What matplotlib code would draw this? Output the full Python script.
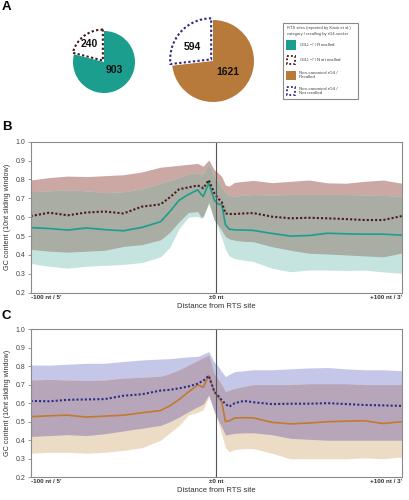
import numpy as np
import matplotlib
matplotlib.use("Agg")
import matplotlib.pyplot as plt
from matplotlib.patches import Rectangle

plt.rcParams['font.family'] = ['Liberation Sans', 'DejaVu Sans']
plt.rcParams['mathtext.default'] = 'regular'

# ---------------- data ----------------
pie_g3l_values = [240, 903]          # not recalled, recalled
pie_noncanon_values = [594, 1621]    # not recalled, recalled

legend_title = ["RTS sites (reported by Kwok et al.)", "category / recalling by rG4-seeker"]
legend_labels = [r"G$_3$L$_{1-7}$ / Recalled", r"G$_3$L$_{1-7}$ / Not recalled",
                 "Non-canonical rG4 /\nRecalled", "Non-canonical rG4 /\nNot recalled"]

pos = [-100, -90, -80, -70, -60, -50, -40, -30, -25, -20, -15, -10, -8, -7, -4, -1,
       1, 3, 5, 7, 10, 15, 20, 30, 40, 50, 60, 70, 80, 90, 100]
xtick_pos = [-100, 0, 100]
xtick_labels = ["-100 nt / 5'", "\u00b10 nt", "+100 nt / 3'"]
ytick_vals = [0.2, 0.3, 0.4, 0.5, 0.6, 0.7, 0.8, 0.9, 1.0]

# Panel B : G3L1-7
b_rec_mean = [0.545, 0.54, 0.532, 0.543, 0.534, 0.528, 0.546, 0.576, 0.63, 0.69, 0.72, 0.745, 0.72, 0.71, 0.78, 0.69,
              0.67, 0.665, 0.56, 0.537, 0.533, 0.532, 0.53, 0.514, 0.50, 0.503, 0.515, 0.512, 0.51, 0.51, 0.505]
b_rec_hi = [0.735, 0.74, 0.744, 0.74, 0.73, 0.735, 0.75, 0.78, 0.795, 0.81, 0.83, 0.835, 0.825, 0.83, 0.885, 0.815,
            0.79, 0.76, 0.73, 0.715, 0.71, 0.718, 0.72, 0.718, 0.72, 0.72, 0.72, 0.72, 0.718, 0.715, 0.712]
b_rec_lo = [0.355, 0.34, 0.33, 0.34, 0.345, 0.35, 0.36, 0.39, 0.44, 0.54, 0.60, 0.605, 0.595, 0.60, 0.67, 0.585,
            0.54, 0.49, 0.43, 0.395, 0.38, 0.372, 0.365, 0.33, 0.311, 0.32, 0.32, 0.318, 0.32, 0.31, 0.303]
b_nr_mean = [0.606, 0.624, 0.61, 0.625, 0.63, 0.62, 0.656, 0.668, 0.705, 0.748, 0.758, 0.768, 0.76, 0.753, 0.797, 0.727,
             0.70, 0.68, 0.62, 0.617, 0.617, 0.62, 0.622, 0.603, 0.594, 0.597, 0.594, 0.59, 0.585, 0.585, 0.606]
b_nr_hi = [0.797, 0.81, 0.818, 0.815, 0.82, 0.825, 0.84, 0.865, 0.87, 0.875, 0.88, 0.885, 0.875, 0.87, 0.903, 0.85,
           0.835, 0.815, 0.77, 0.765, 0.785, 0.79, 0.795, 0.783, 0.79, 0.797, 0.782, 0.78, 0.79, 0.797, 0.78]
b_nr_lo = [0.43, 0.42, 0.415, 0.42, 0.425, 0.445, 0.455, 0.48, 0.52, 0.576, 0.625, 0.63, 0.60, 0.605, 0.68, 0.585,
           0.56, 0.53, 0.497, 0.485, 0.478, 0.472, 0.47, 0.444, 0.425, 0.409, 0.405, 0.40, 0.395, 0.39, 0.41]

# Panel C : non-canonical rG4
c_rec_mean = [0.527, 0.532, 0.535, 0.525, 0.53, 0.535, 0.548, 0.56, 0.585, 0.62, 0.66, 0.698, 0.69, 0.685, 0.748, 0.662,
              0.635, 0.605, 0.50, 0.505, 0.52, 0.522, 0.52, 0.497, 0.488, 0.493, 0.50, 0.503, 0.505, 0.49, 0.50]
c_rec_hi = [0.725, 0.728, 0.725, 0.722, 0.725, 0.735, 0.74, 0.745, 0.76, 0.78, 0.805, 0.83, 0.84, 0.845, 0.86, 0.76,
            0.73, 0.70, 0.662, 0.67, 0.68, 0.69, 0.70, 0.70, 0.70, 0.705, 0.705, 0.705, 0.70, 0.70, 0.70]
c_rec_lo = [0.33, 0.335, 0.335, 0.33, 0.335, 0.345, 0.36, 0.40, 0.44, 0.48, 0.536, 0.55, 0.56, 0.565, 0.635, 0.56,
            0.50, 0.43, 0.36, 0.338, 0.35, 0.355, 0.355, 0.33, 0.30, 0.30, 0.30, 0.30, 0.305, 0.30, 0.31]
c_nr_mean = [0.612, 0.61, 0.618, 0.62, 0.622, 0.64, 0.648, 0.668, 0.672, 0.68, 0.69, 0.705, 0.716, 0.72, 0.748, 0.662,
             0.64, 0.617, 0.595, 0.581, 0.60, 0.612, 0.605, 0.595, 0.597, 0.597, 0.60, 0.595, 0.59, 0.588, 0.585]
c_nr_hi = [0.806, 0.805, 0.81, 0.815, 0.815, 0.825, 0.833, 0.838, 0.84, 0.845, 0.85, 0.852, 0.86, 0.865, 0.878, 0.82,
           0.80, 0.77, 0.743, 0.755, 0.77, 0.775, 0.78, 0.78, 0.785, 0.79, 0.792, 0.785, 0.78, 0.78, 0.775]
c_nr_lo = [0.42, 0.425, 0.43, 0.425, 0.435, 0.45, 0.465, 0.48, 0.50, 0.525, 0.554, 0.58, 0.59, 0.595, 0.644, 0.55,
           0.51, 0.47, 0.428, 0.432, 0.437, 0.44, 0.44, 0.43, 0.41, 0.405, 0.40, 0.40, 0.40, 0.40, 0.40]

# ---------------- styles ----------------
TEAL = '#1b9e8e'
BROWN = '#b87a3a'
MAROON = '#4a1818'
NAVY = '#2c2c88'

W, H = 410, 500
fig = plt.figure(figsize=(W / 100, H / 100), dpi=100)


def fx(px):
    return px / W


def fy(py):
    return 1 - py / H


# ---------------- pies ----------------
def draw_pie(cx, cy, r, values, color, edge, texts):
    size = 2.5 * r
    ax = fig.add_axes([fx(cx - size / 2), fy(cy + size / 2), size / W, size / H])
    wedges, _ = ax.pie(values, startangle=90, counterclock=True, explode=[0.06, 0],
                       colors=['white', color], radius=1.0,
                       wedgeprops=dict(linewidth=0))
    wedges[0].set_edgecolor(edge)
    wedges[0].set_linewidth(1.5)
    wedges[0].set_linestyle((0, (1.1, 1.1)))
    ax.set_xlim(-1.25, 1.25)
    ax.set_ylim(-1.25, 1.25)
    ax.set_aspect('equal')
    ax.axis('off')
    for (tx, ty, s) in texts:
        ax.text(tx, ty, s, ha='center', va='center', fontsize=7.5, fontweight='bold', color='#111111')


draw_pie(104, 62, 31, pie_g3l_values, TEAL, MAROON,
         [(-0.48, 0.58, str(pie_g3l_values[0])), (0.34, -0.26, str(pie_g3l_values[1]))])
draw_pie(213, 61, 41, pie_noncanon_values, BROWN, NAVY,
         [(-0.5, 0.35, str(pie_noncanon_values[0])), (0.37, -0.26, str(pie_noncanon_values[1]))])


# ---------------- line panels ----------------
def draw_panel(top, bottom, rec_mean, rec_hi, rec_lo, nr_mean, nr_hi, nr_lo,
               nr_band, rec_band, both_band, rec_color, nr_color):
    ax = fig.add_axes([fx(30.7), fy(bottom), (401.7 - 30.7) / W, (bottom - top) / H])
    x = np.array(pos, dtype=float)
    nr_hi_a, nr_lo_a = np.array(nr_hi), np.array(nr_lo)
    r_hi_a, r_lo_a = np.array(rec_hi), np.array(rec_lo)
    ax.fill_between(x, nr_lo_a, nr_hi_a, color=nr_band, lw=0)
    ax.fill_between(x, r_lo_a, r_hi_a, color=rec_band, lw=0)
    ax.fill_between(x, np.maximum(nr_lo_a, r_lo_a), np.minimum(nr_hi_a, r_hi_a), color=both_band, lw=0)
    ax.plot(x, rec_mean, color=rec_color, lw=1.2, solid_joinstyle='round')
    ax.plot(x, nr_mean, color=nr_color, lw=1.5, linestyle=(0, (1, 1)))
    ax.axvline(0, color='#555555', lw=0.8)
    ax.set_xlim(-100, 100)
    ax.set_ylim(0.2, 1.0)
    for s in ax.spines.values():
        s.set_color('#8a8a8a')
        s.set_linewidth(0.8)
    ax.set_yticks(ytick_vals)
    ax.set_yticklabels([f"{v:.1f}" for v in ytick_vals], fontsize=5, color='#444444')
    ax.tick_params(axis='y', length=2.5, width=0.6, color='#8a8a8a', pad=1.5)
    ax.set_xticks(xtick_pos)
    ax.set_xticklabels(xtick_labels, fontsize=4.5, fontweight='bold', color='#333333')
    ax.tick_params(axis='x', length=0, pad=1.5)
    tl = ax.get_xticklabels()
    tl[0].set_ha('left')
    tl[2].set_ha('right')
    ax.set_xlabel("Distance from RTS site", fontsize=5.5, color='#333333', labelpad=2)
    ax.set_ylabel("GC content (10nt sliding window)", fontsize=5.2, color='#333333', labelpad=3)
    return ax


draw_panel(141.7, 292.7, b_rec_mean, b_rec_hi, b_rec_lo, b_nr_mean, b_nr_hi, b_nr_lo,
           '#cca8a4', '#c6e4df', '#a9ada3', TEAL, MAROON)
draw_panel(329, 477.3, c_rec_mean, c_rec_hi, c_rec_lo, c_nr_mean, c_nr_hi, c_nr_lo,
           '#c5c7e9', '#ecdcc6', '#b7a6b9', '#c27a2e', NAVY)

# ---------------- overlay: panel letters and legend ----------------
ov = fig.add_axes([0, 0, 1, 1])
ov.set_xlim(0, W)
ov.set_ylim(H, 0)
ov.axis('off')
ov.patch.set_alpha(0)

for lx, ly, s in [(2, 7, 'A'), (2, 127, 'B'), (2, 316, 'C')]:
    ov.text(lx, ly, s, fontsize=9.5, fontweight='bold', ha='left', va='center')

ov.add_patch(Rectangle((283, 23), 75, 76, facecolor='white', edgecolor='#8a8a8a', lw=0.8))
ov.text(287, 28.5, legend_title[0], fontsize=3.0, color='#444444', va='center')
ov.text(287, 33.5, legend_title[1], fontsize=3.0, color='#444444', va='center')

sw = [(40, TEAL, None), (55, 'white', MAROON), (70.5, BROWN, None), (86, 'white', NAVY)]
for (sy, fc, ec), lab in zip(sw, legend_labels):
    if ec is None:
        ov.add_patch(Rectangle((286.5, sy), 9.5, 9.5, facecolor=fc, edgecolor='none'))
    else:
        ov.add_patch(Rectangle((287.2, sy + 0.7), 8.3, 8.3, facecolor='white', edgecolor=ec,
                               lw=1.3, linestyle=(0, (1, 1.2))))
    ov.text(299, sy + 4.8, lab, fontsize=3.2, color='#444444', va='center', linespacing=1.1)

fig.savefig('out.png', dpi=100)
